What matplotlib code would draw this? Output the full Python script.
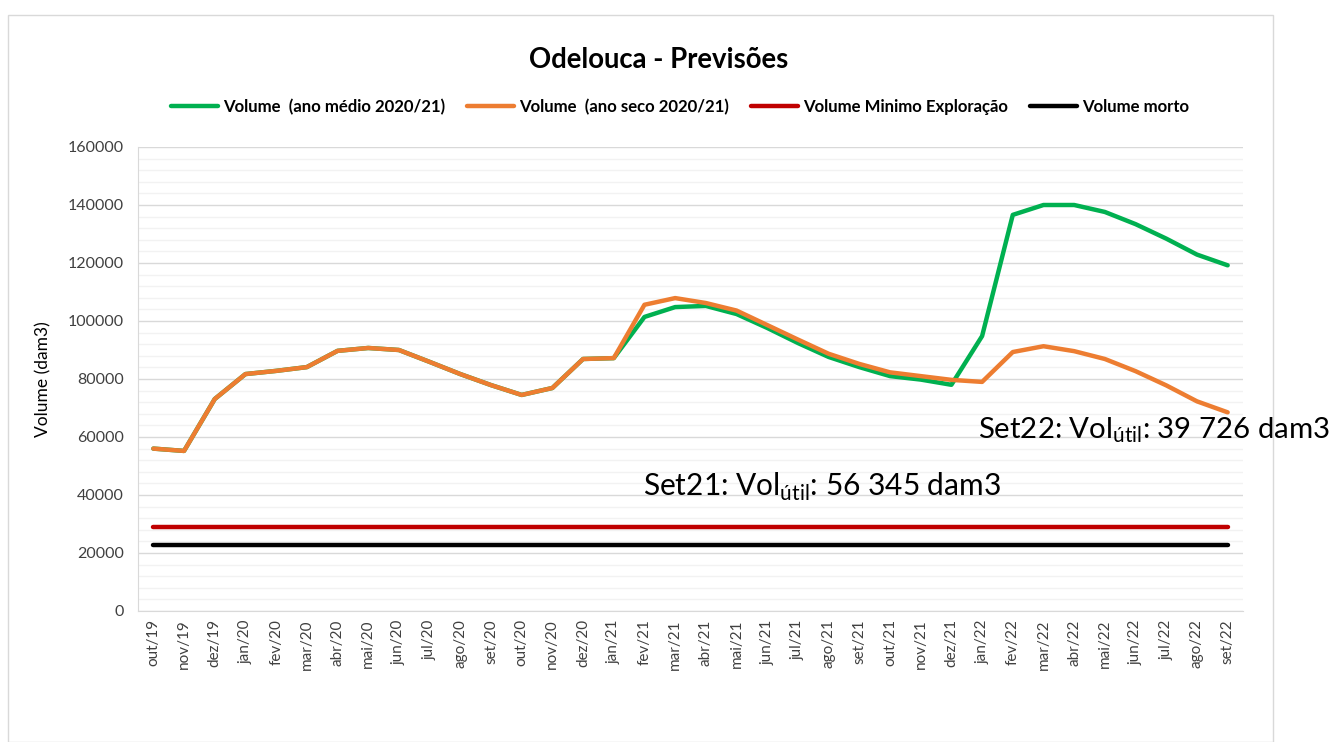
import matplotlib
matplotlib.use("Agg")
import matplotlib.pyplot as plt
from matplotlib.patches import Rectangle
from matplotlib.ticker import MultipleLocator

plt.rcParams['font.family'] = ['Lato', 'DejaVu Sans']
plt.rcParams['mathtext.fontset'] = 'custom'
plt.rcParams['mathtext.rm'] = 'Lato'

months = ["out/19", "nov/19", "dez/19", "jan/20", "fev/20", "mar/20", "abr/20", "mai/20",
          "jun/20", "jul/20", "ago/20", "set/20", "out/20", "nov/20", "dez/20", "jan/21",
          "fev/21", "mar/21", "abr/21", "mai/21", "jun/21", "jul/21", "ago/21", "set/21",
          "out/21", "nov/21", "dez/21", "jan/22", "fev/22", "mar/22", "abr/22", "mai/22",
          "jun/22", "jul/22", "ago/22", "set/22"]

vol_medio = [56000, 55200, 73100, 81700, 82800, 84100, 89700, 90700,
             90000, 85900, 81700, 77900, 74500, 76900, 86900, 87200,
             101400, 104800, 105200, 102400, 97600, 92400, 87600, 84100,
             81000, 79800, 78000, 94800, 136600, 140000, 140000, 137600,
             133400, 128400, 122900, 119200]

vol_seco = [56000, 55200, 73100, 81700, 82800, 84100, 89700, 90700,
            90000, 85900, 81700, 77900, 74500, 76900, 86900, 87200,
            105600, 107900, 106200, 103600, 98600, 93600, 88700, 85200,
            82300, 81000, 79700, 79000, 89300, 91300, 89600, 86900,
            82700, 77800, 72300, 68500]

vol_min_exploracao = [28800] * len(months)
vol_morto = [22600] * len(months)

labels = ["Volume  (ano médio 2020/21)", "Volume  (ano seco 2020/21)",
          "Volume Minimo Exploração", "Volume morto"]
colors = ["#00B050", "#ED7D31", "#C00000", "#000000"]

fig = plt.figure(figsize=(13.3, 7.42), dpi=100)
fig.patches.append(Rectangle((8 / 1330, 0.0), (1273 - 8) / 1330, 1 - 15 / 742,
                             transform=fig.transFigure, fill=False,
                             edgecolor="#D9D9D9", linewidth=1.0))

ax = fig.add_axes([138 / 1330, 1 - 611 / 742, (1243 - 138) / 1330, (611 - 147) / 742])
x = list(range(len(months)))
series = [vol_medio, vol_seco, vol_min_exploracao, vol_morto]
for s, lab, c in zip(series, labels, colors):
    ax.plot(x, s, color=c, linewidth=3.2, label=lab, solid_capstyle='round', solid_joinstyle='round')

ax.set_xlim(-0.5, len(months) - 0.5)
ax.set_ylim(0, 160000)
ax.yaxis.set_major_locator(MultipleLocator(20000))
ax.yaxis.set_minor_locator(MultipleLocator(4000))
ax.grid(which='major', axis='y', color='#D9D9D9', linewidth=1.0)
ax.grid(which='minor', axis='y', color='#F2F2F2', linewidth=1.0)
ax.set_axisbelow(True)
ax.set_xticks(x)
ax.set_xticklabels(months, rotation=90, fontsize=11, color='#404040')
ax.tick_params(axis='x', length=0, pad=6)
ax.tick_params(axis='y', which='both', length=0, labelsize=11.5, labelcolor='#404040', pad=10)
ax.set_yticks(range(0, 160001, 20000))
ax.set_yticklabels([str(v) for v in range(0, 160001, 20000)])
for side in ['top', 'right']:
    ax.spines[side].set_visible(False)
ax.spines['left'].set_color('#D9D9D9')
ax.spines['bottom'].set_color('#D9D9D9')
ax.set_ylabel("Volume (dam3)", fontsize=12.5, color='black', labelpad=12)

fig.text(659 / 1330, 1 - 60 / 742, "Odelouca - Previsões", ha='center', va='center',
         fontsize=19.8, fontweight='bold')

leg = fig.legend(loc='center', bbox_to_anchor=(680 / 1330, 1 - 107 / 742), ncol=4,
                 frameon=False, handlelength=2.8, columnspacing=1.3,
                 handletextpad=0.3, prop={'weight': 'bold', 'size': 12.1})

ax.text(643 / 1330, 1 - 487 / 742, r"Set21: Vol$_{\mathregular{útil}}$: 56 345 dam3",
        transform=fig.transFigure, fontsize=21.5, ha='left', va='center')
ax.text(978 / 1330, 1 - 430 / 742, r"Set22: Vol$_{\mathregular{útil}}$: 39 726 dam3",
        transform=fig.transFigure, fontsize=21.2, ha='left', va='center')

fig.savefig("out.png", dpi=100, facecolor='white')
